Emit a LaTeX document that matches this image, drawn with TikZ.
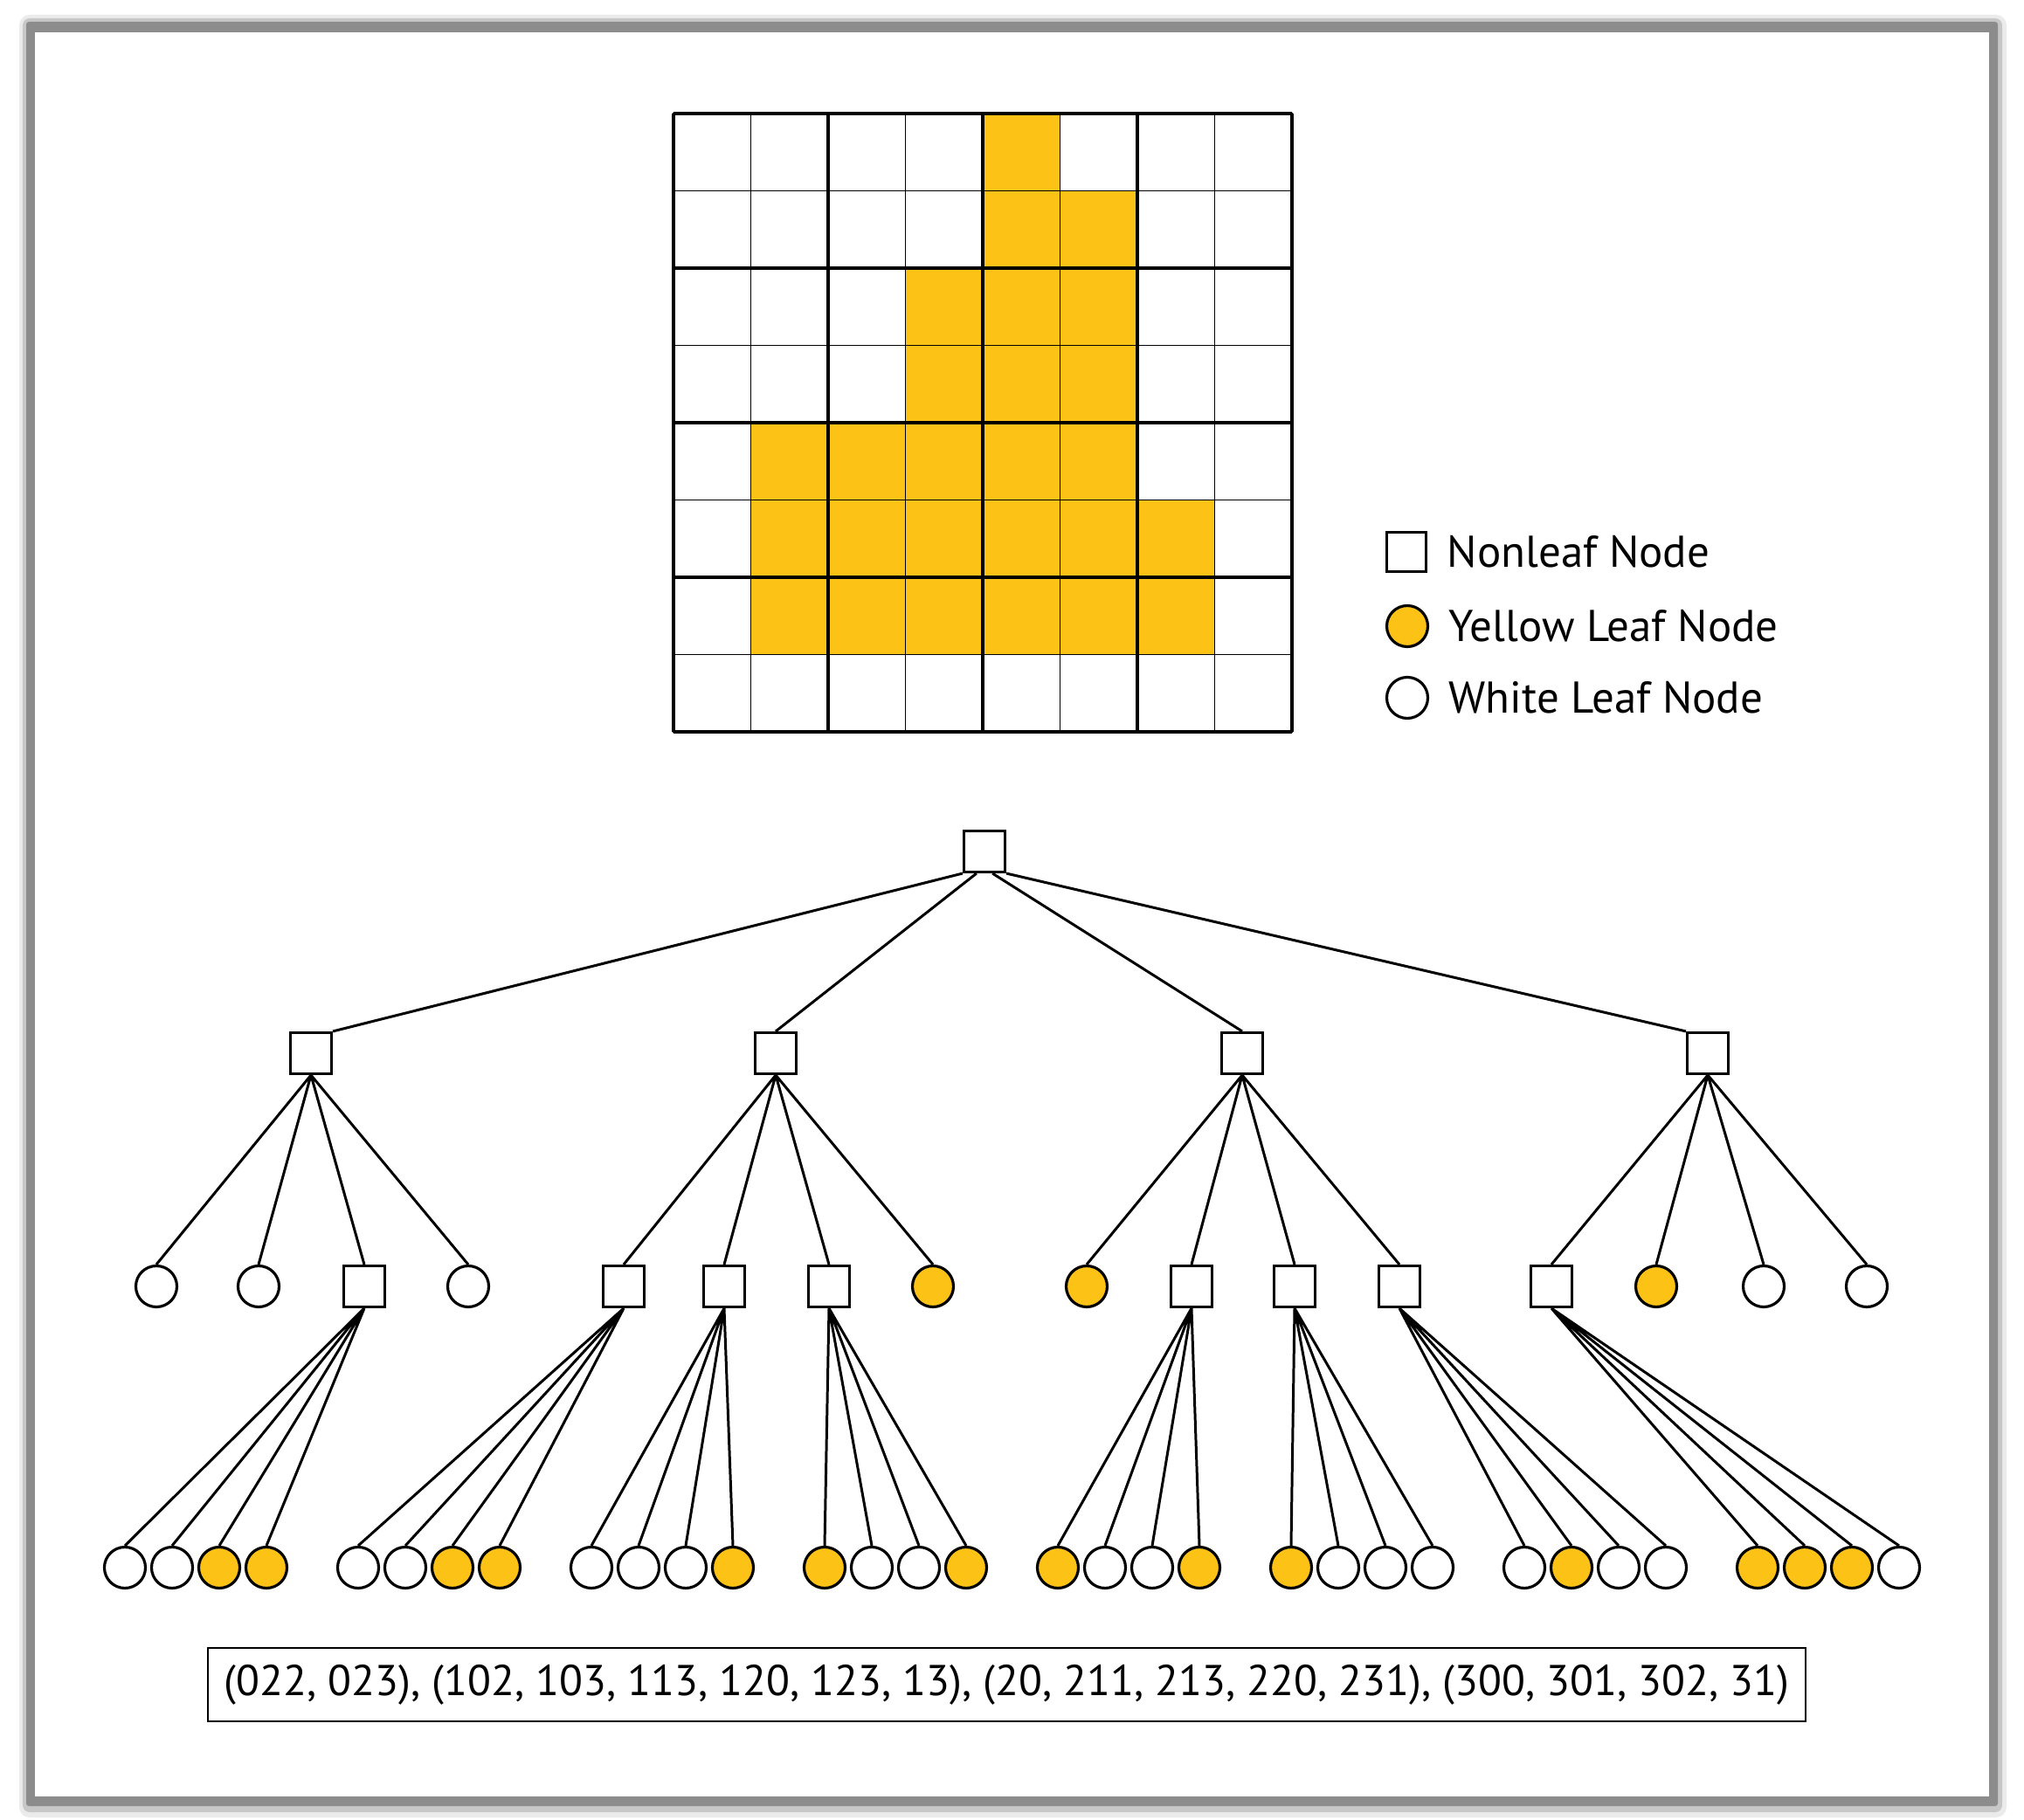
\documentclass[tikz,border=0pt]{standalone}
\usepackage{fontspec}
\setmainfont{PT Sans}
\usetikzlibrary{positioning}
\definecolor{leafyellow}{RGB}{253,194,22}
\tikzset{
    nonleaf/.style={draw, line width=0.9pt, fill=white, minimum size=0.47cm, inner sep=0pt},
    yleaf/.style={circle, draw, line width=0.9pt, fill=leafyellow, minimum size=0.47cm, inner sep=0pt},
    wleaf/.style={circle, draw, line width=0.9pt, fill=white, minimum size=0.47cm, inner sep=0pt},
    branch/.style={line width=0.85pt},
    keytext/.style={inner sep=0pt, font=\fontsize{14.5}{17}\selectfont}
}

\begin{document}
\begin{tikzpicture}
        \def\cellsz{0.885}
        \def\rowa{8.77}
        \def\rowb{6.10}
        \def\rowc{2.88}

        \useasboundingbox (0,0) rectangle (23.17,20.83);
        \fill[white] (0,0) rectangle (23.17,20.83);
        % page with shadow
        \fill[black!8, rounded corners=0.12cm] (0.22, 0.02) rectangle (22.97, 20.66);
        \fill[black!22, rounded corners=0.08cm] (0.26, 0.08) rectangle (22.92, 20.62);
        \fill[black!45, rounded corners=0.03cm] (0.30, 0.15) rectangle (22.87, 20.58);
        \fill[white] (0.40, 0.26) rectangle (22.77, 20.46);

        % raster image
        \begin{scope}[shift={(7.71, 12.45)}, scale=\cellsz]
            \fill[leafyellow] (4,8) -- (5,8) -- (5,7) -- (6,7) -- (6,3) -- (7,3) -- (7,1) -- (1,1) -- (1,4) -- (3,4) -- (3,6) -- (4,6) -- cycle;
            \draw[step=1, line width=0.55pt] (0,0) grid (8,8);
            \draw[step=2, line width=1.3pt] (0,0) grid (8,8);
            \draw[line width=0.75pt] (0,0) rectangle (8,8);
        \end{scope}

        % legend
        \node[nonleaf, minimum size=0.45cm] (keysq) at(16.10, 14.51) {};
        \node[yleaf] (keyy) at(16.11, 13.66) {};
        \node[wleaf] (keyw) at(16.11, 12.84) {};
        \node[keytext, right=0.22cm of keysq] {Nonleaf Node};
        \node[keytext, right=0.22cm of keyy] {Yellow Leaf Node};
        \node[keytext, right=0.22cm of keyw] {White Leaf Node};

        % tree
        \node[nonleaf] (root) at(11.27, 11.08) {};
        \node[nonleaf] (n0) at(3.56, \rowa) {};
        \node[nonleaf] (n1) at(8.88, \rowa) {};
        \node[nonleaf] (n2) at(14.22, \rowa) {};
        \node[nonleaf] (n3) at(19.55, \rowa) {};

        \node[wleaf] (n00) at(1.79, \rowb) {};
        \node[wleaf] (n01) at(2.96, \rowb) {};
        \node[nonleaf] (n02) at(4.17, \rowb) {};
        \node[wleaf] (n03) at(5.36, \rowb) {};
        \node[nonleaf] (n10) at(7.14, \rowb) {};
        \node[nonleaf] (n11) at(8.29, \rowb) {};
        \node[nonleaf] (n12) at(9.49, \rowb) {};
        \node[yleaf] (n13) at(10.68, \rowb) {};
        \node[yleaf] (n20) at(12.44, \rowb) {};
        \node[nonleaf] (n21) at(13.64, \rowb) {};
        \node[nonleaf] (n22) at(14.82, \rowb) {};
        \node[nonleaf] (n23) at(16.02, \rowb) {};
        \node[nonleaf] (n30) at(17.76, \rowb) {};
        \node[yleaf] (n31) at(18.96, \rowb) {};
        \node[wleaf] (n32) at(20.19, \rowb) {};
        \node[wleaf] (n33) at(21.37, \rowb) {};

        \node[wleaf] (n020) at(1.43, \rowc) {};
        \node[wleaf] (n021) at(1.97, \rowc) {};
        \node[yleaf] (n022) at(2.51, \rowc) {};
        \node[yleaf] (n023) at(3.05, \rowc) {};
        \node[wleaf] (n100) at(4.10, \rowc) {};
        \node[wleaf] (n101) at(4.64, \rowc) {};
        \node[yleaf] (n102) at(5.18, \rowc) {};
        \node[yleaf] (n103) at(5.72, \rowc) {};
        \node[wleaf] (n110) at(6.77, \rowc) {};
        \node[wleaf] (n111) at(7.31, \rowc) {};
        \node[wleaf] (n112) at(7.85, \rowc) {};
        \node[yleaf] (n113) at(8.39, \rowc) {};
        \node[yleaf] (n120) at(9.44, \rowc) {};
        \node[wleaf] (n121) at(9.98, \rowc) {};
        \node[wleaf] (n122) at(10.52, \rowc) {};
        \node[yleaf] (n123) at(11.06, \rowc) {};
        \node[yleaf] (n210) at(12.11, \rowc) {};
        \node[wleaf] (n211) at(12.65, \rowc) {};
        \node[wleaf] (n212) at(13.19, \rowc) {};
        \node[yleaf] (n213) at(13.73, \rowc) {};
        \node[yleaf] (n220) at(14.78, \rowc) {};
        \node[wleaf] (n221) at(15.32, \rowc) {};
        \node[wleaf] (n222) at(15.86, \rowc) {};
        \node[wleaf] (n223) at(16.40, \rowc) {};
        \node[wleaf] (n230) at(17.45, \rowc) {};
        \node[yleaf] (n231) at(17.99, \rowc) {};
        \node[wleaf] (n232) at(18.53, \rowc) {};
        \node[wleaf] (n233) at(19.07, \rowc) {};
        \node[yleaf] (n300) at(20.12, \rowc) {};
        \node[yleaf] (n301) at(20.66, \rowc) {};
        \node[yleaf] (n302) at(21.20, \rowc) {};
        \node[wleaf] (n303) at(21.74, \rowc) {};

        \draw[branch] (root.south west) -- (n0.north east) (root.-110) -- (n1.north) (root.-70) -- (n2.north) (root.south east) -- (n3.north west);
        \draw[branch] (n0.south) -- (n00.north) (n0.south) -- (n01.north) (n0.south) -- (n02.north) (n0.south) -- (n03.north);
        \draw[branch] (n1.south) -- (n10.north) (n1.south) -- (n11.north) (n1.south) -- (n12.north) (n1.south) -- (n13.north);
        \draw[branch] (n2.south) -- (n20.north) (n2.south) -- (n21.north) (n2.south) -- (n22.north) (n2.south) -- (n23.north);
        \draw[branch] (n3.south) -- (n30.north) (n3.south) -- (n31.north) (n3.south) -- (n32.north) (n3.south) -- (n33.north);
        \draw[branch] (n02.south) -- (n020.north) (n02.south) -- (n021.north) (n02.south) -- (n022.north) (n02.south) -- (n023.north);
        \draw[branch] (n10.south) -- (n100.north) (n10.south) -- (n101.north) (n10.south) -- (n102.north) (n10.south) -- (n103.north);
        \draw[branch] (n11.south) -- (n110.north) (n11.south) -- (n111.north) (n11.south) -- (n112.north) (n11.south) -- (n113.north);
        \draw[branch] (n12.south) -- (n120.north) (n12.south) -- (n121.north) (n12.south) -- (n122.north) (n12.south) -- (n123.north);
        \draw[branch] (n21.south) -- (n210.north) (n21.south) -- (n211.north) (n21.south) -- (n212.north) (n21.south) -- (n213.north);
        \draw[branch] (n22.south) -- (n220.north) (n22.south) -- (n221.north) (n22.south) -- (n222.north) (n22.south) -- (n223.north);
        \draw[branch] (n23.south) -- (n230.north) (n23.south) -- (n231.north) (n23.south) -- (n232.north) (n23.south) -- (n233.north);
        \draw[branch] (n30.south) -- (n300.north) (n30.south) -- (n301.north) (n30.south) -- (n302.north) (n30.south) -- (n303.north);

        % codes of the yellow leaves
        \node[draw, line width=0.7pt, minimum width=18.29cm, minimum height=0.84cm, inner sep=0pt, font=\fontsize{14.05}{16}\selectfont] (codes) at(11.525, 1.54) {(022, 023), (102, 103, 113, 120, 123, 13), (20, 211, 213, 220, 231), (300, 301, 302, 31)};
    \end{tikzpicture}
\end{document}
